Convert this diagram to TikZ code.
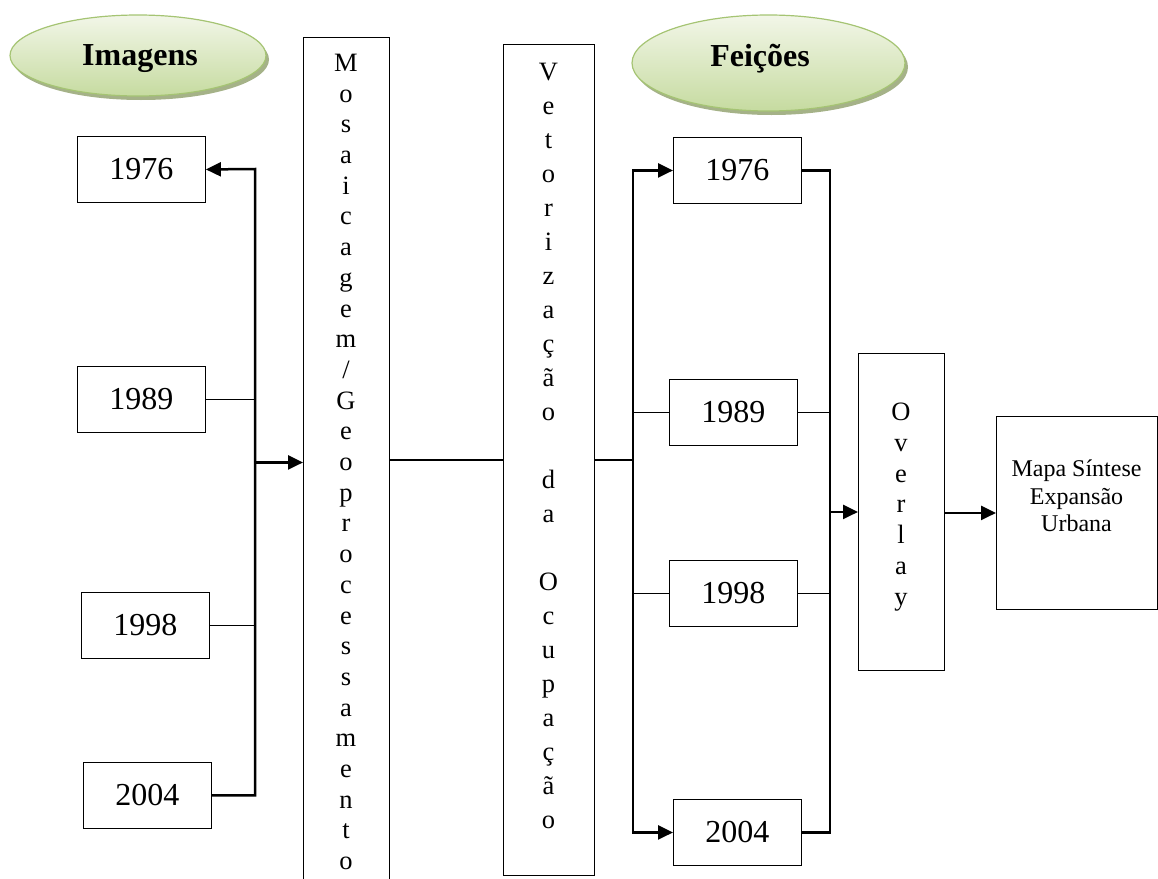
\documentclass[tikz,border=0pt]{standalone}
\usepackage{fontspec}
\setmainfont{Liberation Serif}
\usetikzlibrary{arrows.meta,shapes.geometric,shadows}
\definecolor{ellTop}{RGB}{242,246,232}
\definecolor{ellBot}{RGB}{198,219,160}
\definecolor{ellLine}{RGB}{165,196,115}
\definecolor{ellShadow}{RGB}{160,174,130}
\begin{document}
\begin{tikzpicture}[x=1pt,y=-1pt,
  box/.style={draw, line width=0.9pt, inner sep=0pt, anchor=north west},
  yr/.style={box, minimum width=128pt, minimum height=66pt, font=\fontsize{32}{36}\selectfont},
  coltext/.style={inner sep=0pt, align=center},
  thinline/.style={line width=1.3pt},
  thickline/.style={line width=2.5pt, line join=miter},
  arr/.style={thickline, -{Triangle[length=15pt,width=14pt]}},
  arrboth/.style={thickline, {Triangle[length=15pt,width=14pt]}-{Triangle[length=15pt,width=14pt]}},
  ell/.style={ellipse, draw=ellLine, line width=1.2pt, top color=ellTop, bottom color=ellBot,
    drop shadow={shadow xshift=3pt, shadow yshift=-4pt, fill=ellShadow, opacity=0.95}},
  elltext/.style={inner sep=0pt, anchor=base, font=\bfseries\fontsize{32}{36}\selectfont}
]
\useasboundingbox (0,0) rectangle (1158,878);

% ellipses
\node[ell, minimum width=256pt, minimum height=81pt] (img) at (138,55.5) {};
\node[elltext] (imgT) at (140,65) {Imagens};
\node[ell, minimum width=273pt, minimum height=96pt] (fei) at (768.5,63) {};
\node[elltext] (feiT) at (760,66) {Feições};

% left year boxes
\node[yr] (l1) at (77,136) {1976};
\node[yr] (l2) at (77,366) {1989};
\node[yr] (l3) at (81,592) {1998};
\node[yr] (l4) at (83,762) {2004};

% Mosaicagem column
\node[box, minimum width=86pt, minimum height=850pt] (mos) at (303,37) {};
\node[coltext, font=\fontsize{26.5}{30.7}\selectfont] (mosT) at (346,462)
 {M\\o\\s\\a\\i\\c\\a\\g\\e\\m\\/\\G\\e\\o\\p\\r\\o\\c\\e\\s\\s\\a\\m\\e\\n\\t\\o};

% Vetorizacao column
\node[box, minimum width=91pt, minimum height=831pt] (vet) at (503,44) {};
\node[coltext, font=\fontsize{26.5}{34}\selectfont] (vetT) at (548.5,446)
 {V\\e\\t\\o\\r\\i\\z\\a\\ç\\ã\\o\\\mbox{}\\d\\a\\\mbox{}\\O\\c\\u\\p\\a\\ç\\ã\\o};

% right year boxes
\node[yr] (r1) at (673,137) {1976};
\node[yr] (r2) at (669,379) {1989};
\node[yr] (r3) at (669,560) {1998};
\node[yr] (r4) at (673,799) {2004};

% Overlay
\node[box, minimum width=86pt, minimum height=317pt] (ovl) at (858,353) {};
\node[coltext, font=\fontsize{26.5}{30.8}\selectfont] (ovlT) at (901,507) {O\\v\\e\\r\\l\\a\\y};

% Mapa
\node[box, minimum width=161pt, minimum height=193pt] (mapa) at (996,416) {};
\node[coltext, font=\fontsize{24}{27.5}\selectfont] (mapaT) at (1076.5,496) {Mapa Síntese\\Expansão\\Urbana};

% left connectors
\coordinate (lb1) at (255,169);
\draw[arr] (l4.east) -- (l4.east -| lb1) -- (lb1) -- (l1.east);
\draw[thinline] (l2.east) -- (l2.east -| lb1);
\draw[thinline] (l3.east) -- (l3.east -| lb1);
\draw[arr] (mos.west -| lb1) -- (mos.west);

% middle
\draw[thinline] (vet.west -| mos.east) -- (vet.west);

% right connectors
\coordinate (rb) at (633,172);
\coordinate (rr) at (830,172);
\draw[thickline] (vet.east) -- (vet.east -| rb);
\draw[arrboth] (r1.west) -- (r1.west -| rb) -- (r4.west -| rb) -- (r4.west);
\draw[thinline] (r2.west -| rb) -- (r2.west);
\draw[thinline] (r3.west -| rb) -- (r3.west);
\draw[thickline] (r1.east) -- (r1.east -| rr) -- (r4.east -| rr) -- (r4.east);
\draw[thinline] (r2.east) -- (r2.east -| rr);
\draw[thinline] (r3.east) -- (r3.east -| rr);
\draw[arr] (ovl.west -| rr) -- (ovl.west);
\draw[arr] (ovl.east) -- (mapa.west -| ovl.east) -- (mapa.west);
\end{tikzpicture}
\end{document}
